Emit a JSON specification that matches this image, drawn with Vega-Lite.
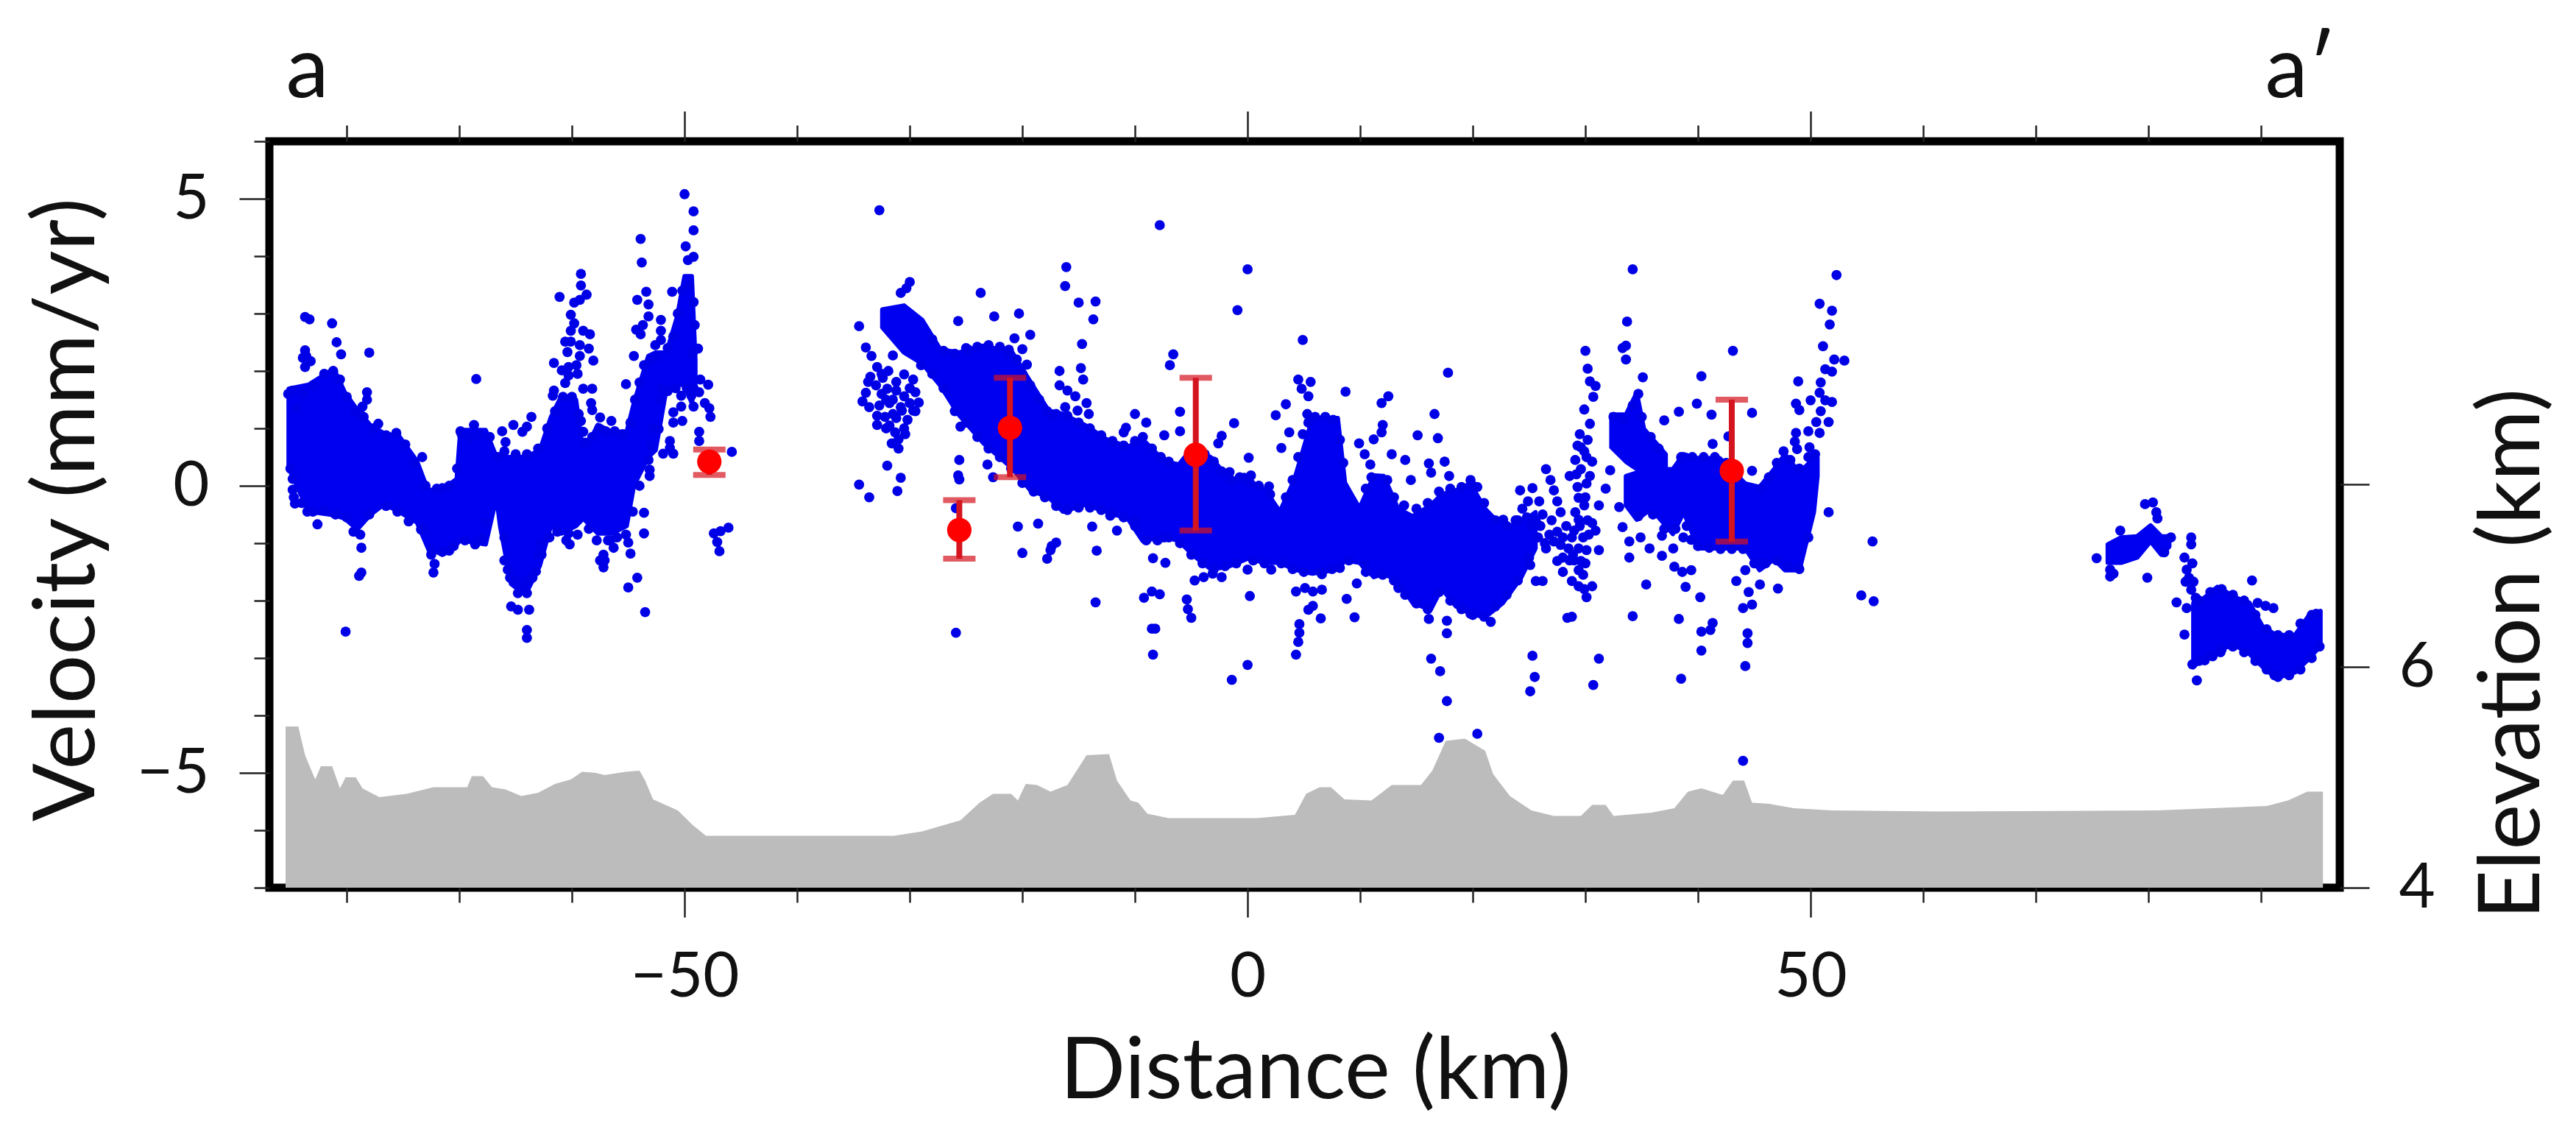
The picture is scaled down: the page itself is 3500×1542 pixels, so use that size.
{"$schema":"https://vega.github.io/schema/vega-lite/v6.json","width":2813,"height":1014,"autosize":"none","padding":{"left":366,"top":192,"right":321,"bottom":336},"background":"white","view":{"stroke":"black","strokeWidth":11,"fill":"white"},"config":{"axis":{"grid":false,"domain":false,"tickColor":"#222222","tickWidth":2.5,"labelFont":"Lato","labelFontSize":85,"labelColor":"#111111","titleFont":"Lato","titleFontSize":117,"titleFontWeight":"normal","titleColor":"#111111","labelOverlap":false,"labelFlush":false,"labelBound":false,"titleBaseline":"alphabetic"}},"datasets":{"profile":[{"d":-85.43,"e":5.46},{"d":-84.3,"e":5.46},{"d":-83.7,"e":5.2},{"d":-82.8,"e":4.98},{"d":-82.3,"e":5.1},{"d":-81.3,"e":5.1},{"d":-80.6,"e":4.9},{"d":-80.1,"e":5},{"d":-79.2,"e":5},{"d":-78.6,"e":4.9},{"d":-77.1,"e":4.82},{"d":-74.7,"e":4.85},{"d":-72.3,"e":4.91},{"d":-69.3,"e":4.91},{"d":-68.9,"e":5.01},{"d":-67.9,"e":5.01},{"d":-67.1,"e":4.91},{"d":-65.9,"e":4.89},{"d":-64.5,"e":4.83},{"d":-63,"e":4.86},{"d":-61.5,"e":4.94},{"d":-60.1,"e":4.98},{"d":-59.1,"e":5.05},{"d":-57.9,"e":5.04},{"d":-57.1,"e":5.02},{"d":-55.2,"e":5.05},{"d":-54,"e":5.06},{"d":-53.5,"e":4.97},{"d":-52.8,"e":4.8},{"d":-50.6,"e":4.7},{"d":-49.3,"e":4.57},{"d":-48.1,"e":4.47},{"d":-31.4,"e":4.47},{"d":-28.9,"e":4.51},{"d":-25.5,"e":4.61},{"d":-23.8,"e":4.77},{"d":-22.6,"e":4.85},{"d":-21,"e":4.85},{"d":-20.4,"e":4.79},{"d":-19.7,"e":4.94},{"d":-18.7,"e":4.93},{"d":-17.5,"e":4.87},{"d":-16,"e":4.93},{"d":-14.3,"e":5.2},{"d":-12.3,"e":5.21},{"d":-11.6,"e":4.97},{"d":-10.4,"e":4.79},{"d":-9.7,"e":4.77},{"d":-8.9,"e":4.67},{"d":-7,"e":4.63},{"d":-3.1,"e":4.63},{"d":0.8,"e":4.63},{"d":4.2,"e":4.66},{"d":5.2,"e":4.85},{"d":6.4,"e":4.91},{"d":7.4,"e":4.91},{"d":8.6,"e":4.8},{"d":11,"e":4.79},{"d":12.8,"e":4.93},{"d":15.4,"e":4.93},{"d":16.4,"e":5.06},{"d":17.6,"e":5.33},{"d":19.3,"e":5.35},{"d":21.1,"e":5.24},{"d":21.8,"e":5.03},{"d":23.3,"e":4.83},{"d":25.2,"e":4.7},{"d":27.2,"e":4.65},{"d":29.6,"e":4.65},{"d":30.6,"e":4.75},{"d":31.8,"e":4.75},{"d":32.5,"e":4.65},{"d":35.9,"e":4.68},{"d":37.9,"e":4.72},{"d":39.1,"e":4.87},{"d":40.3,"e":4.9},{"d":42.2,"e":4.84},{"d":43.1,"e":4.97},{"d":44.1,"e":4.97},{"d":44.8,"e":4.77},{"d":46.3,"e":4.76},{"d":48.5,"e":4.72},{"d":51.9,"e":4.7},{"d":61.5,"e":4.69},{"d":80.8,"e":4.7},{"d":90.5,"e":4.74},{"d":92.4,"e":4.79},{"d":94.1,"e":4.87},{"d":95.5,"e":4.87}],"core":[{"s":"A","d":-85.16,"hi":1.69,"lo":0.31},{"s":"A","d":-83.39,"hi":1.76,"lo":-0.45},{"s":"A","d":-81.14,"hi":2.04,"lo":-0.51},{"s":"A","d":-80.18,"hi":1.63,"lo":-0.57},{"s":"A","d":-79.06,"hi":1.32,"lo":-0.76},{"s":"A","d":-77.93,"hi":1.06,"lo":-0.51},{"s":"A","d":-76.65,"hi":0.91,"lo":-0.32},{"s":"A","d":-75.36,"hi":0.87,"lo":-0.45},{"s":"A","d":-73.76,"hi":0.43,"lo":-0.64},{"s":"A","d":-72.8,"hi":-0.07,"lo":-1.08},{"s":"A","d":-71.51,"hi":-0.07,"lo":-1.2},{"s":"A","d":-70.23,"hi":0.12,"lo":-1.02},{"s":"A","d":-69.91,"hi":0.97,"lo":-0.95},{"s":"A","d":-67.66,"hi":0.97,"lo":-1.02},{"s":"A","d":-66.7,"hi":0.5,"lo":-0.2},{"s":"A","d":-66.38,"hi":0.5,"lo":-0.7},{"s":"A","d":-65.41,"hi":0.5,"lo":-1.71},{"s":"A","d":-64.13,"hi":0.5,"lo":-1.9},{"s":"A","d":-62.85,"hi":0.62,"lo":-1.39},{"s":"A","d":-61.88,"hi":1.19,"lo":-0.7},{"s":"A","d":-60.92,"hi":1.57,"lo":-0.83},{"s":"A","d":-59.64,"hi":1.5,"lo":-0.7},{"s":"A","d":-58.99,"hi":0.56,"lo":-0.57},{"s":"A","d":-57.71,"hi":1.06,"lo":-0.83},{"s":"A","d":-56.43,"hi":0.94,"lo":-0.83},{"s":"A","d":-55.14,"hi":0.94,"lo":-0.7},{"s":"A","d":-54.5,"hi":1.44,"lo":0},{"s":"A","d":-53.22,"hi":2.26,"lo":0.5},{"s":"A","d":-52.57,"hi":2.32,"lo":0.62},{"s":"A","d":-51.61,"hi":2.32,"lo":1.69},{"s":"A","d":-50.65,"hi":2.95,"lo":1.76},{"s":"A","d":-50,"hi":3.65,"lo":1.76},{"s":"A","d":-49.36,"hi":3.65,"lo":1.44},{"s":"A","d":-49.04,"hi":2.2,"lo":1.76},{"s":"B","d":-32.44,"hi":3.07,"lo":2.76},{"s":"B","d":-30.51,"hi":3.14,"lo":2.32},{"s":"B","d":-28.9,"hi":2.89,"lo":2.13},{"s":"B","d":-27.3,"hi":2.38,"lo":1.75},{"s":"B","d":-25.7,"hi":2.32,"lo":1.25},{"s":"B","d":-23.45,"hi":2.44,"lo":0.74},{"s":"B","d":-20.88,"hi":2.32,"lo":0.3},{"s":"B","d":-19.28,"hi":1.81,"lo":-0.08},{"s":"B","d":-17.67,"hi":1.31,"lo":-0.2},{"s":"B","d":-16.39,"hi":1.25,"lo":-0.45},{"s":"B","d":-14.46,"hi":1.06,"lo":-0.33},{"s":"B","d":-12.53,"hi":0.81,"lo":-0.45},{"s":"B","d":-10.61,"hi":0.68,"lo":-0.58},{"s":"B","d":-9.32,"hi":0.81,"lo":-0.96},{"s":"B","d":-7.4,"hi":0.43,"lo":-0.89},{"s":"B","d":-6.11,"hi":0.37,"lo":-0.96},{"s":"B","d":-4.83,"hi":0.68,"lo":-1.21},{"s":"B","d":-3.22,"hi":0.49,"lo":-1.46},{"s":"B","d":-1.62,"hi":0.11,"lo":-1.4},{"s":"B","d":-0.01,"hi":0.11,"lo":-1.27},{"s":"B","d":1.59,"hi":-0.08,"lo":-1.34},{"s":"B","d":2.87,"hi":-0.45,"lo":-1.34},{"s":"B","d":4.16,"hi":0.11,"lo":-1.46},{"s":"B","d":5.76,"hi":1.18,"lo":-1.53},{"s":"B","d":8.01,"hi":1.18,"lo":-1.46},{"s":"B","d":8.65,"hi":0.05,"lo":-1.3},{"s":"B","d":9.94,"hi":-0.39,"lo":-1.34},{"s":"B","d":11.22,"hi":0.18,"lo":-1.59},{"s":"B","d":12.09,"hi":0.17,"lo":-1.53},{"s":"B","d":13.37,"hi":-0.4,"lo":-1.66},{"s":"B","d":14.66,"hi":-0.53,"lo":-2.04},{"s":"B","d":16.26,"hi":-0.34,"lo":-2.16},{"s":"B","d":17.23,"hi":-0.15,"lo":-1.79},{"s":"B","d":18.51,"hi":-0.08,"lo":-2.1},{"s":"B","d":19.79,"hi":0.04,"lo":-2.23},{"s":"B","d":21.08,"hi":-0.4,"lo":-2.29},{"s":"B","d":22.68,"hi":-0.72,"lo":-2.04},{"s":"B","d":24.29,"hi":-0.65,"lo":-1.6},{"s":"B","d":25.57,"hi":-0.46,"lo":-1.09},{"s":"C","d":32.31,"hi":1.24,"lo":0.67},{"s":"C","d":33.6,"hi":1.24,"lo":0.42},{"s":"C","d":34.56,"hi":1.62,"lo":0.29},{"s":"C","d":35.2,"hi":0.99,"lo":0.29},{"s":"C","d":37.13,"hi":0.55,"lo":0.23},{"s":"D","d":33.6,"hi":0.17,"lo":-0.34},{"s":"D","d":34.56,"hi":0.23,"lo":-0.59},{"s":"D","d":35.85,"hi":0.29,"lo":-0.4},{"s":"D","d":37.77,"hi":0.29,"lo":-0.84},{"s":"D","d":38.73,"hi":0.55,"lo":-0.46},{"s":"D","d":40.02,"hi":0.48,"lo":-1.09},{"s":"D","d":41.94,"hi":0.48,"lo":-1.09},{"s":"D","d":44.19,"hi":0.04,"lo":-1.09},{"s":"D","d":45.47,"hi":-0.02,"lo":-1.47},{"s":"D","d":46.76,"hi":0.29,"lo":-1.28},{"s":"D","d":47.72,"hi":0.55,"lo":-1.47},{"s":"D","d":49.01,"hi":0.23,"lo":-1.47},{"s":"D","d":50.29,"hi":0.48,"lo":-0.46},{"s":"D","d":50.61,"hi":0.48,"lo":0.17},{"s":"E","d":76.39,"hi":-1.02,"lo":-1.34},{"s":"E","d":77.57,"hi":-0.9,"lo":-1.34},{"s":"E","d":79,"hi":-0.88,"lo":-1.25},{"s":"E","d":80.19,"hi":-0.69,"lo":-0.97},{"s":"E","d":81.14,"hi":-0.88,"lo":-1.2},{"s":"E","d":81.85,"hi":-0.88,"lo":-1.06},{"s":"F","d":83.99,"hi":-2.04,"lo":-3.16},{"s":"F","d":84.71,"hi":-1.99,"lo":-3.02},{"s":"F","d":86.13,"hi":-1.76,"lo":-2.83},{"s":"F","d":87.8,"hi":-1.95,"lo":-2.79},{"s":"F","d":88.98,"hi":-2.04,"lo":-2.93},{"s":"F","d":90.17,"hi":-2.46,"lo":-3.16},{"s":"F","d":91.36,"hi":-2.6,"lo":-3.35},{"s":"F","d":93.02,"hi":-2.6,"lo":-3.25},{"s":"F","d":94.21,"hi":-2.27,"lo":-3.02},{"s":"F","d":95.28,"hi":-2.18,"lo":-2.79}],"points":[{"d":-28,"v":2.55},{"d":-27,"v":2.35},{"d":-26,"v":2.3},{"d":-25,"v":2.4},{"d":-24,"v":2.42},{"d":-23,"v":2.45},{"d":-22,"v":2.42},{"d":-21.3,"v":2.3},{"d":-20.5,"v":2.2},{"d":-20,"v":1.95},{"d":-19.3,"v":1.75},{"d":-18.5,"v":1.5},{"d":-17.8,"v":1.3},{"d":-17,"v":1.25},{"d":-16,"v":1.22},{"d":-15,"v":1.1},{"d":-14,"v":1},{"d":-13,"v":0.88},{"d":-12,"v":0.78},{"d":-11,"v":0.7},{"d":-10,"v":0.78},{"d":-9.3,"v":0.85},{"d":-8.5,"v":0.65},{"d":-7.7,"v":0.5},{"d":-7,"v":0.42},{"d":-3.8,"v":0.55},{"d":-3,"v":0.42},{"d":-2.3,"v":0.25},{"d":-1.5,"v":0.1},{"d":-0.7,"v":0.15},{"d":0.2,"v":0.05},{"d":1,"v":0},{"d":2,"v":-0.15},{"d":3.4,"v":-0.2},{"d":4,"v":0.1},{"d":4.5,"v":0.5},{"d":4.9,"v":0.9},{"d":5.4,"v":1.1},{"d":6,"v":1.2},{"d":6.9,"v":1.2},{"d":7.6,"v":1.15},{"d":8.2,"v":0.8},{"d":8.5,"v":0.4},{"d":10.5,"v":-0.05},{"d":11,"v":0.15},{"d":12.4,"v":0.1},{"d":13,"v":-0.2},{"d":15,"v":-0.4},{"d":16,"v":-0.3},{"d":17,"v":-0.1},{"d":18,"v":-0.05},{"d":19,"v":-0.02},{"d":20,"v":0},{"d":21,"v":-0.3},{"d":22,"v":-0.6},{"d":23,"v":-0.7},{"d":24,"v":-0.6},{"d":-29,"v":2.1},{"d":-28,"v":1.95},{"d":-27,"v":1.7},{"d":-26,"v":1.3},{"d":-25,"v":1.1},{"d":-24,"v":0.85},{"d":-23,"v":0.65},{"d":-22,"v":0.5},{"d":-21,"v":0.3},{"d":-20,"v":0.05},{"d":-19,"v":-0.1},{"d":-18,"v":-0.2},{"d":-17,"v":-0.35},{"d":-16,"v":-0.42},{"d":-15,"v":-0.38},{"d":-14,"v":-0.38},{"d":-13,"v":-0.42},{"d":-12,"v":-0.48},{"d":-11,"v":-0.55},{"d":-10,"v":-0.7},{"d":-9,"v":-0.95},{"d":-8,"v":-0.95},{"d":-7,"v":-0.9},{"d":-6,"v":-1},{"d":-5,"v":-1.2},{"d":-4,"v":-1.35},{"d":-3,"v":-1.45},{"d":-2,"v":-1.4},{"d":-1,"v":-1.35},{"d":0.5,"v":-1.3},{"d":1.5,"v":-1.35},{"d":3,"v":-1.35},{"d":4,"v":-1.45},{"d":5,"v":-1.5},{"d":6.5,"v":-1.5},{"d":7.5,"v":-1.45},{"d":9,"v":-1.3},{"d":10.5,"v":-1.5},{"d":12,"v":-1.55},{"d":13,"v":-1.65},{"d":14,"v":-1.9},{"d":15,"v":-2.05},{"d":16,"v":-2.15},{"d":17,"v":-1.85},{"d":18,"v":-2},{"d":19,"v":-2.15},{"d":20,"v":-2.25},{"d":21,"v":-2.28},{"d":22,"v":-2.1},{"d":23,"v":-1.9},{"d":24,"v":-1.65},{"d":25,"v":-1.25},{"d":38.5,"v":0.5},{"d":39.5,"v":0.5},{"d":40.5,"v":0.5},{"d":41.5,"v":0.5},{"d":42.5,"v":0.4},{"d":43.5,"v":0.15},{"d":36,"v":-0.5},{"d":37,"v":-0.75},{"d":38,"v":-0.75},{"d":39,"v":-0.7},{"d":40,"v":-1.05},{"d":41,"v":-1.08},{"d":42,"v":-1.1},{"d":43,"v":-1.1},{"d":44,"v":-1.1},{"d":45,"v":-1.35},{"d":46,"v":-1.35},{"d":47,"v":-1.3},{"d":48,"v":-1.4},{"d":49,"v":-1.45},{"d":49.8,"v":-0.9},{"d":84.5,"v":-2},{"d":85.5,"v":-1.85},{"d":86.5,"v":-1.8},{"d":87.5,"v":-1.9},{"d":88.5,"v":-2},{"d":89.5,"v":-2.25},{"d":90.5,"v":-2.5},{"d":91.5,"v":-2.6},{"d":92.5,"v":-2.6},{"d":93.5,"v":-2.4},{"d":94.5,"v":-2.25},{"d":84.5,"v":-3.05},{"d":85.5,"v":-2.95},{"d":86.5,"v":-2.85},{"d":87.5,"v":-2.8},{"d":88.5,"v":-2.9},{"d":89.5,"v":-3.05},{"d":90.5,"v":-3.2},{"d":91.5,"v":-3.33},{"d":92.5,"v":-3.3},{"d":93.5,"v":-3.2},{"d":94.5,"v":-3},{"d":95.2,"v":-2.8},{"d":32.5,"v":1.2},{"d":33.3,"v":1.15},{"d":34.2,"v":1.4},{"d":34.7,"v":1.6},{"d":35,"v":1.2},{"d":35.8,"v":0.85},{"d":36.5,"v":0.65},{"d":-85.2,"v":1.6},{"d":-84.5,"v":1.35},{"d":-83.9,"v":1.6},{"d":-83,"v":1.75},{"d":-82,"v":1.95},{"d":-81.2,"v":2},{"d":-80.6,"v":1.85},{"d":-80,"v":1.55},{"d":-79.3,"v":1.3},{"d":-78.5,"v":1.2},{"d":-77.6,"v":1},{"d":-76.5,"v":0.88},{"d":-75.6,"v":0.92},{"d":-74.8,"v":0.72},{"d":-74,"v":0.4},{"d":-73,"v":0},{"d":-72,"v":-0.05},{"d":-70.9,"v":0},{"d":-70.2,"v":0.3},{"d":-69.8,"v":0.9},{"d":-69,"v":0.85},{"d":-68.2,"v":0.9},{"d":-67.3,"v":0.85},{"d":-66.6,"v":0.5},{"d":-85,"v":0.3},{"d":-84,"v":-0.3},{"d":-83,"v":-0.45},{"d":-82,"v":-0.42},{"d":-81,"v":-0.5},{"d":-80,"v":-0.55},{"d":-79.4,"v":-0.8},{"d":-78.8,"v":-0.85},{"d":-78,"v":-0.5},{"d":-76.5,"v":-0.35},{"d":-75.5,"v":-0.45},{"d":-74.5,"v":-0.62},{"d":-73.2,"v":-0.75},{"d":-72.5,"v":-1.1},{"d":-71.5,"v":-1.15},{"d":-70.5,"v":-1.05},{"d":-69.5,"v":-0.95},{"d":-68.5,"v":-0.98},{"d":-66,"v":-0.9},{"d":-66,"v":-1.3},{"d":-65.5,"v":-1.6},{"d":-64.5,"v":-1.75},{"d":-63.5,"v":-1.6},{"d":-62.7,"v":-1.2},{"d":-62,"v":-0.9},{"d":-61.3,"v":-0.8},{"d":-60.5,"v":-0.95},{"d":-59.5,"v":-0.85},{"d":-58.5,"v":-0.75},{"d":-57.8,"v":-0.95},{"d":-56.8,"v":-0.95},{"d":-56,"v":-0.9},{"d":-55.2,"v":-0.85},{"d":-54.6,"v":-0.45},{"d":-54,"v":0},{"d":-66,"v":0.6},{"d":-65,"v":0.55},{"d":-64,"v":0.55},{"d":-63,"v":0.65},{"d":-62.2,"v":1},{"d":-61.5,"v":1.3},{"d":-60.8,"v":1.55},{"d":-60,"v":1.55},{"d":-59.4,"v":1.25},{"d":-58.8,"v":0.75},{"d":-58.2,"v":0.85},{"d":-57.6,"v":1},{"d":-57,"v":0.95},{"d":-56.2,"v":0.95},{"d":-55.5,"v":0.9},{"d":-54.8,"v":1.1},{"d":-54.4,"v":1.5},{"d":-54,"v":1.8},{"d":-53.6,"v":2.1},{"d":-53,"v":2.2},{"d":-52.5,"v":2.25},{"d":-51.5,"v":2.4},{"d":-51,"v":2.6},{"d":-50.6,"v":3},{"d":-50.2,"v":3.4},{"d":-49.6,"v":3.5},{"d":-49.2,"v":3.2},{"d":-49.1,"v":2.8},{"d":-49.3,"v":2.3},{"d":-52,"v":1.7},{"d":-51.5,"v":1.65},{"d":-50.8,"v":1.7},{"d":-49.8,"v":1.7},{"d":-49.2,"v":1.7},{"d":-52.8,"v":1},{"d":-53,"v":0.7},{"d":-53.2,"v":0.45},{"d":-33.5,"v":1.9},{"d":-33,"v":1.75},{"d":-32.5,"v":1.6},{"d":-32.7,"v":1.4},{"d":-32.2,"v":1.2},{"d":-31.8,"v":1.05},{"d":-31.5,"v":1.25},{"d":-30.2,"v":1.15},{"d":-30.5,"v":1},{"d":-31,"v":0.65},{"d":-30,"v":1.7},{"d":-29.5,"v":1.3},{"d":-31.9,"v":2},{"d":-32.5,"v":1.95},{"d":26.2,"v":-0.5},{"d":27,"v":-0.6},{"d":26,"v":-0.7},{"d":26.8,"v":-0.85},{"d":27.5,"v":-0.8},{"d":28.3,"v":-0.7},{"d":28,"v":-0.9},{"d":28.8,"v":-0.9},{"d":29.5,"v":-0.7},{"d":30.2,"v":-0.6},{"d":30,"v":-0.2},{"d":29.2,"v":0.2},{"d":29.9,"v":0.6},{"d":29.5,"v":0.9},{"d":30.1,"v":0.5},{"d":29.3,"v":0.7},{"d":30.3,"v":-0.85},{"d":30,"v":-1.35},{"d":29,"v":-1.3},{"d":28.6,"v":-1.3},{"d":29.8,"v":-1.55},{"d":29.9,"v":-1.8},{"d":28.9,"v":-1.2},{"d":28,"v":-1.25},{"d":25.6,"v":-0.6},{"d":26.4,"v":-1},{"d":25.8,"v":-0.9},{"d":25.2,"v":-0.7},{"d":24.8,"v":-0.55},{"d":24.4,"v":-0.4},{"d":23.8,"v":-0.6},{"d":45.6,"v":-0.05},{"d":46.3,"v":0.15},{"d":47,"v":0.4},{"d":47.6,"v":0.6},{"d":48.2,"v":0.45},{"d":49,"v":0.3},{"d":49.8,"v":0.5},{"d":50.4,"v":0.55},{"d":-50,"v":5.08},{"d":-49.2,"v":4.78},{"d":-49.2,"v":4.45},{"d":-49.9,"v":4.17},{"d":-49.2,"v":3.99},{"d":-49.7,"v":3.93},{"d":-53.9,"v":4.3},{"d":-53.8,"v":3.89},{"d":-59.2,"v":3.69},{"d":-59.2,"v":3.49},{"d":-58.7,"v":3.33},{"d":-59.3,"v":3.24},{"d":-59.8,"v":3.19},{"d":-61.1,"v":3.29},{"d":-53.4,"v":3.38},{"d":-54.2,"v":3.24},{"d":-53.2,"v":3.16},{"d":-51.1,"v":3.38},{"d":-53.2,"v":2.95},{"d":-53.7,"v":2.8},{"d":-54.3,"v":2.72},{"d":-53.9,"v":2.64},{"d":-52.1,"v":2.89},{"d":-52.1,"v":2.7},{"d":-52.1,"v":2.54},{"d":-52.6,"v":2.45},{"d":-60.1,"v":2.98},{"d":-59.8,"v":2.83},{"d":-60.1,"v":2.7},{"d":-60.6,"v":2.51},{"d":-60.1,"v":2.51},{"d":-59,"v":2.7},{"d":-58.4,"v":2.64},{"d":-59.3,"v":2.45},{"d":-58.5,"v":2.39},{"d":-60.4,"v":2.33},{"d":-59.3,"v":2.26},{"d":-58.1,"v":2.18},{"d":-61.6,"v":2.14},{"d":-60.3,"v":2.07},{"d":-59.6,"v":2.1},{"d":-60.9,"v":2.01},{"d":-60.3,"v":1.92},{"d":-59.5,"v":1.95},{"d":-60.6,"v":1.79},{"d":-61.6,"v":1.66},{"d":-61.7,"v":1.57},{"d":-59,"v":1.69},{"d":-58.2,"v":1.69},{"d":-58.3,"v":1.44},{"d":-58.2,"v":1.32},{"d":-55.2,"v":1.77},{"d":-54.5,"v":2.26},{"d":-48.8,"v":2.39},{"d":-48.6,"v":1.85},{"d":-47.9,"v":1.76},{"d":-48.7,"v":1.63},{"d":-48.2,"v":1.44},{"d":-47.8,"v":1.35},{"d":-47.7,"v":1.2},{"d":-49.4,"v":1.57},{"d":-50.3,"v":1.57},{"d":-50.3,"v":1.38},{"d":-51,"v":1.28},{"d":-51,"v":1.1},{"d":-50.2,"v":1.13},{"d":-49.2,"v":1.38},{"d":-52.1,"v":1.5},{"d":-48.7,"v":0.94},{"d":-48.7,"v":0.78},{"d":-52.3,"v":0.99},{"d":-51.3,"v":0.78},{"d":-51.9,"v":0.56},{"d":-51,"v":0.56},{"d":-51.3,"v":0.66},{"d":-53.1,"v":0.28},{"d":-53.1,"v":0.17},{"d":-45.8,"v":0.59},{"d":-53.6,"v":-0.47},{"d":-53.6,"v":-0.83},{"d":-55,"v":-0.99},{"d":-54.8,"v":-1.18},{"d":-56.6,"v":-0.95},{"d":-56.3,"v":-1.08},{"d":-57.2,"v":-1.2},{"d":-57.5,"v":-1.3},{"d":-57.2,"v":-1.42},{"d":-57.1,"v":-1.3},{"d":-60.3,"v":-0.83},{"d":-60.2,"v":-1.02},{"d":-54.2,"v":-1.6},{"d":-55,"v":-1.77},{"d":-53.5,"v":-2.2},{"d":-47.4,"v":-0.83},{"d":-46.8,"v":-0.79},{"d":-46.1,"v":-0.73},{"d":-47.1,"v":-0.98},{"d":-46.9,"v":-1.14},{"d":-65.7,"v":-1.46},{"d":-65.1,"v":-1.65},{"d":-64.8,"v":-1.87},{"d":-64,"v":-1.87},{"d":-64.1,"v":-1.68},{"d":-63.2,"v":-1.49},{"d":-62.8,"v":-1.02},{"d":-63,"v":-1.2},{"d":-65.4,"v":-2.1},{"d":-64.8,"v":-2.16},{"d":-63.8,"v":-2.16},{"d":-64,"v":-2.51},{"d":-64,"v":-2.65},{"d":-78.7,"v":-1.08},{"d":-78.7,"v":-1.51},{"d":-78.9,"v":-1.57},{"d":-82.6,"v":-0.67},{"d":-80.1,"v":-2.54},{"d":-72.3,"v":-1.51},{"d":-72.2,"v":-1.36},{"d":-72.5,"v":-1.2},{"d":-70.9,"v":-1.13},{"d":-68.6,"v":-1.02},{"d":-68,"v":-0.92},{"d":-67.7,"v":-0.64},{"d":-73.4,"v":-0.76},{"d":-71.5,"v":-0.04},{"d":-83.7,"v":2.94},{"d":-83.3,"v":2.9},{"d":-81.3,"v":2.83},{"d":-80.9,"v":2.5},{"d":-80.5,"v":2.29},{"d":-78,"v":2.32},{"d":-83.7,"v":2.36},{"d":-83.9,"v":2.23},{"d":-83.2,"v":2.17},{"d":-83.7,"v":2.07},{"d":-83.6,"v":2.26},{"d":-78.2,"v":1.63},{"d":-78.2,"v":1.5},{"d":-78.6,"v":1.38},{"d":-78.7,"v":1.22},{"d":-77.2,"v":1.08},{"d":-68.5,"v":1.86},{"d":-84.8,"v":1.66},{"d":-84.8,"v":0.12},{"d":-84.8,"v":-0.07},{"d":-84.7,"v":-0.2},{"d":-84.6,"v":-0.31},{"d":-83.5,"v":-0.45},{"d":-69.9,"v":0.95},{"d":-68.7,"v":1.06},{"d":-66.2,"v":0.95},{"d":-65.9,"v":0.76},{"d":-65.2,"v":1.06},{"d":-63.6,"v":1.2},{"d":-64.4,"v":0.94},{"d":-64,"v":1.03},{"d":-73.3,"v":0.5},{"d":-57.5,"v":1.19},{"d":-56.5,"v":1.13},{"d":-59.2,"v":1.13},{"d":-59,"v":0.94},{"d":-32.7,"v":4.8},{"d":-7.8,"v":4.54},{"d":-16.1,"v":3.81},{"d":0,"v":3.77},{"d":-30,"v":3.55},{"d":-30.3,"v":3.44},{"d":-30.8,"v":3.36},{"d":-23.7,"v":3.36},{"d":-16.2,"v":3.48},{"d":-15,"v":3.19},{"d":-13.5,"v":3.21},{"d":-13.7,"v":2.9},{"d":-0.9,"v":3.06},{"d":-34.5,"v":2.78},{"d":-25.7,"v":2.87},{"d":-22.5,"v":2.95},{"d":-20.3,"v":3},{"d":-19.3,"v":2.63},{"d":-20.7,"v":2.57},{"d":-14.7,"v":2.47},{"d":4.9,"v":2.54},{"d":-6.6,"v":2.29},{"d":-6.9,"v":2.1},{"d":-14.8,"v":2.05},{"d":-14.6,"v":1.85},{"d":-16.7,"v":2},{"d":-19.6,"v":2.11},{"d":-20,"v":2.38},{"d":-21.2,"v":2.37},{"d":-24.8,"v":2.37},{"d":-31.5,"v":2.27},{"d":-33.9,"v":2.41},{"d":-33.4,"v":2.26},{"d":-32.9,"v":2.07},{"d":-32.4,"v":1.88},{"d":-32,"v":1.69},{"d":-31.5,"v":1.5},{"d":-33.7,"v":1.81},{"d":-33.9,"v":1.62},{"d":-34.2,"v":1.47},{"d":-33.6,"v":1.37},{"d":-32.9,"v":1.22},{"d":-32.9,"v":1.06},{"d":-32.1,"v":1},{"d":-31.6,"v":0.74},{"d":-31,"v":0.81},{"d":-30.4,"v":0.9},{"d":-31.3,"v":0.93},{"d":-30.5,"v":1.94},{"d":-29.7,"v":1.85},{"d":-31.2,"v":1.81},{"d":-31.8,"v":1.44},{"d":-30.5,"v":1.56},{"d":-29.5,"v":1.63},{"d":-29.2,"v":1.45},{"d":-29.7,"v":1.31},{"d":-30.7,"v":1.31},{"d":-31.2,"v":1.18},{"d":-30.8,"v":1.37},{"d":-30,"v":1.44},{"d":-31.2,"v":1.66},{"d":-32.1,"v":1.5},{"d":-32,"v":0.35},{"d":-30.8,"v":0.14},{"d":-34.5,"v":0.02},{"d":-33.6,"v":-0.2},{"d":-31.1,"v":-0.09},{"d":-25.5,"v":1.03},{"d":-25.6,"v":0.45},{"d":-25.6,"v":0.11},{"d":-25.7,"v":0.18},{"d":-23.1,"v":0.37},{"d":-22.6,"v":0.15},{"d":-25.9,"v":-0.39},{"d":-25.9,"v":-2.56},{"d":-20.4,"v":-0.71},{"d":-18.6,"v":-0.66},{"d":-20,"v":-1.17},{"d":-17,"v":-0.99},{"d":-17.5,"v":-1.12},{"d":-17.8,"v":-1.27},{"d":-17.4,"v":-1.05},{"d":-13.8,"v":-0.71},{"d":-13.4,"v":-1.13},{"d":-11.6,"v":-0.78},{"d":-13.5,"v":-2.03},{"d":-9.2,"v":-1.95},{"d":-8.5,"v":-1.84},{"d":-7.8,"v":-1.89},{"d":-8.5,"v":-2.49},{"d":-8.2,"v":-2.49},{"d":-8.4,"v":-2.94},{"d":-8.4,"v":-1.26},{"d":-7.3,"v":-1.34},{"d":-5.4,"v":-1.98},{"d":-5.3,"v":-2.15},{"d":-5,"v":-2.3},{"d":-4.7,"v":-1.65},{"d":-3.9,"v":-1.59},{"d":-3.1,"v":-1.53},{"d":-2.3,"v":-1.59},{"d":0,"v":-1.46},{"d":0.2,"v":-1.92},{"d":0,"v":-3.12},{"d":-1.4,"v":-3.38},{"d":2.1,"v":-1.46},{"d":4.3,"v":-2.94},{"d":4.6,"v":-2.41},{"d":4.6,"v":-2.56},{"d":4.5,"v":-2.72},{"d":5.4,"v":-2.16},{"d":5.8,"v":-2.09},{"d":6.5,"v":-2.31},{"d":4.3,"v":-1.84},{"d":5.1,"v":-1.78},{"d":5.8,"v":-1.84},{"d":6.6,"v":-1.81},{"d":9.5,"v":-2.29},{"d":8.8,"v":-1.97},{"d":9.7,"v":-1.7},{"d":10.4,"v":-1.37},{"d":8.2,"v":-1.43},{"d":6.6,"v":-1.54},{"d":13.4,"v":-1.78},{"d":4.5,"v":1.85},{"d":4.8,"v":1.69},{"d":5.6,"v":1.81},{"d":5.4,"v":1.56},{"d":5.3,"v":1.25},{"d":8.7,"v":1.64},{"d":2.5,"v":1.23},{"d":3.4,"v":1.42},{"d":3.7,"v":0.93},{"d":3,"v":0.66},{"d":12.5,"v":1.56},{"d":11.9,"v":1.44},{"d":12,"v":1.06},{"d":11.9,"v":0.93},{"d":11.2,"v":0.81},{"d":9.9,"v":0.74},{"d":12.8,"v":0.55},{"d":10.4,"v":0.55},{"d":10.9,"v":0.37},{"d":-1.2,"v":1.09},{"d":-2.3,"v":0.87},{"d":-2.6,"v":0.74},{"d":-6,"v":1.29},{"d":-6,"v":0.95},{"d":-7.4,"v":0.88},{"d":-9,"v":1.1},{"d":-10,"v":1.25},{"d":-10.8,"v":1.01},{"d":-11,"v":0.93},{"d":0.1,"v":0.49},{"d":-1.6,"v":0.24},{"d":-0.3,"v":0.14},{"d":0.3,"v":0.18},{"d":1.9,"v":-0.01},{"d":-16.7,"v":1.75},{"d":-16,"v":1.66},{"d":-15.3,"v":1.56},{"d":-14.3,"v":1.44},{"d":-14.1,"v":1.25},{"d":-16.2,"v":1.37},{"d":-17.3,"v":1.22},{"d":-15.1,"v":1.31},{"d":-12.2,"v":-0.52},{"d":-10,"v":-0.61},{"d":-7.4,"v":-0.9},{"d":34.2,"v":3.77},{"d":52.3,"v":3.67},{"d":50.8,"v":3.17},{"d":51.9,"v":3.05},{"d":51.7,"v":2.81},{"d":33.7,"v":2.86},{"d":33.6,"v":2.44},{"d":33.3,"v":2.4},{"d":33.6,"v":2.2},{"d":30,"v":2.35},{"d":43.1,"v":2.35},{"d":51.1,"v":2.43},{"d":17.8,"v":1.97},{"d":30.2,"v":2.04},{"d":30.4,"v":1.82},{"d":30.9,"v":1.74},{"d":30.7,"v":1.55},{"d":29.9,"v":1.33},{"d":35.1,"v":1.89},{"d":40.3,"v":1.91},{"d":48.9,"v":1.82},{"d":53,"v":2.18},{"d":52.1,"v":2.2},{"d":51.3,"v":2.03},{"d":51.9,"v":1.99},{"d":50.9,"v":1.8},{"d":50.8,"v":1.62},{"d":51.3,"v":1.49},{"d":50,"v":1.49},{"d":51.9,"v":1.46},{"d":50.9,"v":1.3},{"d":50.5,"v":1.11},{"d":51.6,"v":1.11},{"d":49.8,"v":0.95},{"d":50.8,"v":0.92},{"d":48.7,"v":1.43},{"d":49,"v":1.32},{"d":48.7,"v":0.92},{"d":48.6,"v":0.77},{"d":48.8,"v":0.64},{"d":49.9,"v":0.67},{"d":16.6,"v":1.25},{"d":15.1,"v":0.88},{"d":16.9,"v":0.83},{"d":39.9,"v":1.43},{"d":38.3,"v":1.29},{"d":41.2,"v":1.24},{"d":37,"v":1.14},{"d":44.8,"v":1.27},{"d":42.7,"v":0.86},{"d":41.3,"v":0.73},{"d":44.8,"v":0.26},{"d":32.2,"v":0.27},{"d":26.5,"v":0.29},{"d":26.9,"v":0.1},{"d":27.2,"v":-0.08},{"d":27.5,"v":-0.27},{"d":27.8,"v":-0.46},{"d":25.3,"v":-0.04},{"d":24.2,"v":-0.08},{"d":24.9,"v":-0.27},{"d":25.9,"v":-0.27},{"d":29.6,"v":0.67},{"d":30.2,"v":0.8},{"d":30.4,"v":1.08},{"d":29.1,"v":0.45},{"d":30.6,"v":0.42},{"d":29.6,"v":0.29},{"d":28.6,"v":0.17},{"d":30.4,"v":0.17},{"d":29.3,"v":-0.02},{"d":30.1,"v":0.04},{"d":29.4,"v":-0.21},{"d":29.9,"v":-0.34},{"d":29.1,"v":-0.46},{"d":29.4,"v":-0.59},{"d":29,"v":-0.78},{"d":30.6,"v":-0.65},{"d":30.9,"v":-0.78},{"d":29.8,"v":-0.9},{"d":29.4,"v":-1.09},{"d":31.2,"v":-1.12},{"d":30.1,"v":-1.12},{"d":29.6,"v":-1.31},{"d":29.4,"v":-1.47},{"d":28.8,"v":-1.66},{"d":29.4,"v":-1.75},{"d":30.6,"v":-1.75},{"d":30.1,"v":-1.94},{"d":31.2,"v":-0.34},{"d":31.8,"v":-0.05},{"d":27.2,"v":-0.97},{"d":27.8,"v":-1.03},{"d":26.5,"v":-1.09},{"d":27.5,"v":-1.31},{"d":28,"v":-1.5},{"d":28.5,"v":-1.09},{"d":25.1,"v":-1.38},{"d":25.6,"v":-1.66},{"d":26.2,"v":-1.66},{"d":28.8,"v":-2.28},{"d":28.4,"v":-2.3},{"d":34.2,"v":-2.27},{"d":35.4,"v":-1.72},{"d":38.3,"v":-2.32},{"d":38.9,"v":-1.76},{"d":40.2,"v":-1.94},{"d":41.1,"v":-2.51},{"d":40.3,"v":-2.54},{"d":41.3,"v":-2.39},{"d":40.3,"v":-2.87},{"d":44.4,"v":-2.57},{"d":44.4,"v":-2.74},{"d":44.2,"v":-3.14},{"d":38.5,"v":-3.36},{"d":31.2,"v":-3.01},{"d":25.3,"v":-2.96},{"d":25.5,"v":-3.33},{"d":25.1,"v":-3.58},{"d":30.7,"v":-3.47},{"d":16.3,"v":-3.01},{"d":17.1,"v":-3.23},{"d":17.7,"v":-3.75},{"d":17,"v":-4.39},{"d":20.4,"v":-4.32},{"d":44,"v":-4.79},{"d":55.5,"v":-0.97},{"d":54.5,"v":-1.91},{"d":55.6,"v":-2.01},{"d":51.6,"v":-0.46},{"d":47.1,"v":-1.79},{"d":43.4,"v":-1.66},{"d":44.2,"v":-1.47},{"d":45.5,"v":-1.72},{"d":44.5,"v":-1.85},{"d":44.8,"v":-2.07},{"d":44,"v":-2.13},{"d":37.9,"v":-1.41},{"d":39.4,"v":-1.47},{"d":38.6,"v":-1.5},{"d":36.8,"v":-1.22},{"d":37.8,"v":-1.09},{"d":38.7,"v":-0.9},{"d":39.4,"v":-0.94},{"d":36.8,"v":-0.87},{"d":33.9,"v":-0.97},{"d":34.9,"v":-0.9},{"d":35.7,"v":-1.09},{"d":33.9,"v":-1.25},{"d":33.3,"v":-0.72},{"d":33,"v":-0.37},{"d":34.7,"v":-0.53},{"d":13.4,"v":-1.76},{"d":16.1,"v":-2.32},{"d":17.7,"v":-2.57},{"d":17.7,"v":-2.35},{"d":21.6,"v":-2.37},{"d":19.8,"v":-2.23},{"d":22.7,"v":-0.59},{"d":19.8,"v":0.1},{"d":20.4,"v":-0.02},{"d":17.5,"v":0.42},{"d":16.1,"v":0.39},{"d":14.5,"v":0.1},{"d":16.3,"v":0.23},{"d":14,"v":0.45},{"d":13.9,"v":-0.34},{"d":17.9,"v":0.17},{"d":75.4,"v":-1.26},{"d":77.5,"v":-0.78},{"d":76.6,"v":-1.58},{"d":76.9,"v":-1.53},{"d":76.6,"v":-1.46},{"d":79.9,"v":-1.6},{"d":79.7,"v":-0.32},{"d":80.4,"v":-0.29},{"d":80.7,"v":-0.46},{"d":80.8,"v":-0.57},{"d":82,"v":-0.9},{"d":81.4,"v":-1.16},{"d":83.8,"v":-0.9},{"d":83.8,"v":-1.02},{"d":83.2,"v":-1.25},{"d":83.9,"v":-1.35},{"d":83.4,"v":-1.46},{"d":83.6,"v":-1.6},{"d":83.3,"v":-1.67},{"d":84,"v":-1.67},{"d":83.8,"v":-1.81},{"d":84.2,"v":-1.95},{"d":82.5,"v":-2.03},{"d":83.4,"v":-2.13},{"d":89.2,"v":-1.65},{"d":83.2,"v":-2.59},{"d":83.9,"v":-3.11},{"d":84.3,"v":-3.39},{"d":86.4,"v":-2.9},{"d":85.7,"v":-2.97},{"d":85,"v":-3.04},{"d":91.1,"v":-2.13},{"d":90.4,"v":-2.09},{"d":89.7,"v":-2.04},{"d":91.2,"v":-3.3},{"d":94.9,"v":-2.23}],"sites":[{"d":-47.8,"v":0.42,"lo":0.19,"hi":0.63},{"d":-25.6,"v":-0.77,"lo":-1.27,"hi":-0.25},{"d":-21.1,"v":1.01,"lo":0.15,"hi":1.88},{"d":-4.6,"v":0.54,"lo":-0.78,"hi":1.88},{"d":43,"v":0.26,"lo":-0.97,"hi":1.5}],"labels":[{"d":-83.5,"v":6.77,"t":"a"},{"d":93.5,"v":6.77,"t":"a′"}]},"resolve":{"scale":{"y":"independent"},"axis":{"x":"independent","y":"independent"}},"layer":[{"data":{"name":"profile"},"mark":{"type":"area","color":"#bcbcbc","interpolate":"linear"},"encoding":{"x":{"field":"d","type":"quantitative","scale":{"domain":[-86.87,96.99],"nice":false,"zero":false},"axis":{"orient":"bottom","title":"Distance (km)","titleX":1421,"titleY":285,"values":[-80,-70,-60,-50,-40,-30,-20,-10,0,10,20,30,40,50,60,70,80,90],"tickSize":{"condition":{"test":"datum.value % 50 === 0","value":40},"value":20},"labelPadding":40,"labelExpr":"datum.value % 50 === 0 ? (datum.value < 0 ? '−' : '') + abs(datum.value) : ''"}},"y":{"field":"e","type":"quantitative","scale":{"domain":[4,10.76],"nice":false,"zero":false},"axis":{"orient":"right","title":"Elevation (km)","titleX":270,"titleY":696,"titleAngle":-90,"titleAlign":"center","values":[4,6,7.65],"tickSize":40,"labelPadding":40,"labelExpr":"datum.value === 7.65 ? '' : datum.value"}},"y2":{"datum":4}}},{"data":{"name":"core"},"mark":{"type":"area","color":"#0000f0","interpolate":"linear","stroke":"#0000f0","strokeWidth":6,"strokeJoin":"round"},"encoding":{"x":{"field":"d","type":"quantitative","axis":{"orient":"top","title":null,"values":[-80,-70,-60,-50,-40,-30,-20,-10,0,10,20,30,40,50,60,70,80,90],"tickSize":{"condition":{"test":"datum.value % 50 === 0","value":41},"value":22},"labels":false}},"y":{"field":"hi","type":"quantitative","scale":{"domain":[-7,6],"nice":false,"zero":false},"axis":{"orient":"left","title":"Velocity (mm/yr)","titleX":-239,"titleY":500,"titleAlign":"center","values":[-7,-6,-5,-4,-3,-2,-1,0,1,2,3,4,5,6],"tickSize":{"condition":{"test":"datum.value % 5 === 0","value":41},"value":21},"labelPadding":41,"labelExpr":"datum.value % 5 === 0 ? (datum.value < 0 ? '−' : '') + abs(datum.value) : ''"}},"y2":{"field":"lo"},"detail":{"field":"s"}}},{"data":{"name":"points"},"mark":{"type":"circle","color":"#0000e6","size":190,"opacity":1},"encoding":{"x":{"field":"d","type":"quantitative","axis":null},"y":{"field":"v","type":"quantitative","scale":{"domain":[-7,6],"nice":false,"zero":false},"axis":null}}},{"data":{"name":"sites"},"mark":{"type":"rule","color":"#d4141f","strokeWidth":8},"encoding":{"x":{"field":"d","type":"quantitative","axis":null},"y":{"field":"lo","type":"quantitative","scale":{"domain":[-7,6],"nice":false,"zero":false},"axis":null},"y2":{"field":"hi"}}},{"data":{"name":"sites"},"mark":{"type":"tick","color":"#d4141f","size":44,"thickness":8,"orient":"horizontal"},"encoding":{"x":{"field":"d","type":"quantitative","axis":null},"y":{"field":"lo","type":"quantitative","scale":{"domain":[-7,6],"nice":false,"zero":false},"axis":null}}},{"data":{"name":"sites"},"mark":{"type":"tick","color":"#d4141f","size":44,"thickness":8,"orient":"horizontal"},"encoding":{"x":{"field":"d","type":"quantitative","axis":null},"y":{"field":"hi","type":"quantitative","scale":{"domain":[-7,6],"nice":false,"zero":false},"axis":null}}},{"data":{"name":"sites"},"mark":{"type":"circle","color":"#ff0000","size":1100,"opacity":1},"encoding":{"x":{"field":"d","type":"quantitative","axis":null},"y":{"field":"v","type":"quantitative","scale":{"domain":[-7,6],"nice":false,"zero":false},"axis":null}}},{"data":{"name":"labels"},"mark":{"type":"text","font":"Lato","fontSize":117,"color":"#111111","align":"center","baseline":"alphabetic","clip":false},"encoding":{"x":{"field":"d","type":"quantitative","axis":null},"y":{"field":"v","type":"quantitative","scale":{"domain":[-7,6],"nice":false,"zero":false},"axis":null},"text":{"field":"t","type":"nominal"}}}]}
